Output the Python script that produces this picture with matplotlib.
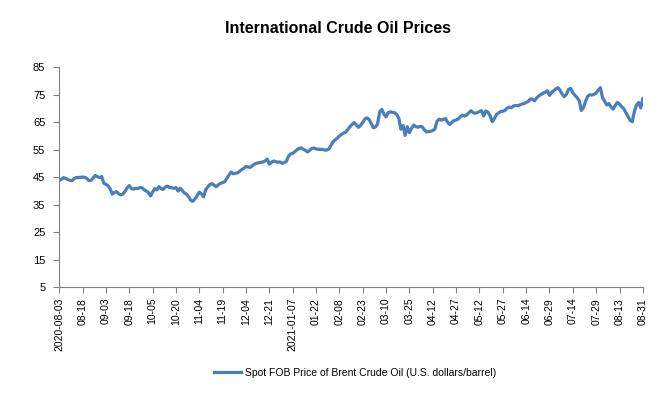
import matplotlib
matplotlib.use("Agg")
import matplotlib.pyplot as plt
from matplotlib import font_manager

# Brent spot FOB price, one value per trading day (2020-08-03 .. 2021-08-31)
prices = [
    43.8, 44.3, 44.9, 44.6, 44.2, 43.9, 43.8, 44.5, 44.9, 44.9, 45.0,
    45.1, 45.0, 44.6, 43.8, 43.9, 44.8, 45.7, 45.2, 44.9, 45.3, 42.9,
    42.4, 42.0, 40.8, 38.9, 39.5, 39.8, 39.0, 38.6, 38.9, 39.9, 41.2,
    42.0, 40.9, 40.7, 41.0, 40.9, 41.3, 41.2, 40.5, 40.0, 39.5, 38.2,
    39.6, 40.9, 40.4, 41.6, 40.9, 40.6, 41.5, 41.8, 41.3, 41.2, 41.0,
    41.3, 40.0, 41.0, 40.2, 39.3, 38.9, 37.9, 36.6, 36.3, 37.2, 38.3,
    39.6, 39.0, 37.9, 40.4, 41.5, 42.4, 42.7, 42.1, 41.6, 42.3, 42.8,
    43.1, 43.4, 44.6, 45.9, 46.9, 46.3, 46.5, 46.6, 47.2, 47.8, 48.3,
    48.9, 48.8, 48.6, 49.2, 49.8, 50.1, 50.3, 50.4, 50.6, 50.9, 51.6,
    49.8, 50.4, 50.9, 50.7, 50.5, 50.6, 50.1, 50.3, 50.8, 52.6, 53.5,
    53.7, 54.3, 55.0, 55.5, 55.7, 55.2, 54.8, 54.2, 54.8, 55.5, 55.6,
    55.3, 55.2, 55.1, 55.2, 54.9, 54.9, 55.3, 56.5, 57.9, 58.6, 59.2,
    60.0, 60.6, 61.1, 61.4, 62.4, 63.4, 64.2, 64.9, 64.0, 63.2, 63.9,
    64.9, 66.2, 66.6, 66.0, 64.6, 63.0, 63.3, 64.4, 68.8, 69.7, 67.9,
    67.0, 68.5, 68.8, 68.6, 68.5, 67.8, 66.5, 62.5, 63.8, 60.2, 63.4,
    61.2, 62.8, 64.0, 63.4, 63.2, 63.5, 63.4, 62.3, 61.5, 61.6, 61.7,
    62.0, 62.5, 65.4, 66.1, 65.8, 66.0, 66.4, 65.0, 64.2, 65.0, 65.6,
    65.8, 66.2, 67.0, 67.6, 67.3, 67.7, 68.4, 69.2, 68.5, 68.3, 68.5,
    68.9, 69.2, 67.3, 69.1, 68.7, 67.4, 65.2, 66.3, 67.8, 68.4, 68.9,
    69.0, 69.3, 70.1, 70.5, 70.3, 70.9, 71.1, 71.0, 71.3, 71.6, 71.8,
    72.2, 72.6, 73.5, 73.3, 72.8, 73.9, 74.6, 75.1, 75.6, 75.9, 76.5,
    74.8, 75.8, 76.5, 77.1, 77.6, 76.6, 75.2, 74.3, 75.2, 77.0, 77.3,
    75.7, 74.8, 74.0, 72.9, 69.3, 70.3, 72.6, 74.5, 75.0, 74.9, 75.2,
    75.6, 76.7, 77.6, 73.9, 72.6, 71.3, 71.8, 70.6, 69.8, 71.2, 72.2,
    71.6, 70.7, 69.9, 68.5, 67.1, 65.7, 65.2, 68.9, 71.3, 72.2, 70.2, 73.6,
]

tick_labels = [
    "2020-08-03", "08-18", "09-03", "09-18", "10-05", "10-20", "11-04",
    "11-19", "12-04", "12-21", "2021-01-07", "01-22", "02-08", "02-23",
    "03-10", "03-25", "04-12", "04-27", "05-12", "05-27", "06-14", "06-29",
    "07-14", "07-29", "08-13", "08-31",
]
tick_step = 11
y_ticks = [5, 15, 25, 35, 45, 55, 65, 75, 85]
series_name = "Spot FOB Price of Brent Crude Oil (U.S. dollars/barrel)"

installed = {f.name for f in font_manager.fontManager.ttflist}
narrow = "Liberation Sans Narrow" if "Liberation Sans Narrow" in installed else "Liberation Sans"
plt.rcParams["font.family"] = ["Liberation Sans", "DejaVu Sans"]

fig = plt.figure(figsize=(6.58, 3.98), dpi=100)
ax = fig.add_axes([0.090, 0.278, 0.887, 0.553])

x = list(range(len(prices)))
line, = ax.plot(x, prices, color="#4a7ebb", lw=2.3, solid_joinstyle="round")

ax.set_xlim(0, len(prices) - 1)
ax.set_ylim(5, 85)
ax.set_yticks(y_ticks)
ax.set_yticklabels([str(v) for v in y_ticks], fontsize=8, family=narrow)
ax.set_xticks(list(range(0, len(prices), tick_step)))
ax.set_xticklabels(tick_labels, rotation=90, fontsize=7.5, family=narrow)

for s in ("top", "right"):
    ax.spines[s].set_visible(False)
for s in ("left", "bottom"):
    ax.spines[s].set_color("#808080")
    ax.spines[s].set_linewidth(0.8)
ax.tick_params(axis="both", colors="#808080", length=4, width=0.8, labelcolor="black")
ax.tick_params(axis="y", pad=6)

fig.text(0.514, 0.928, "International Crude Oil Prices", ha="center", va="center",
         fontsize=11.5, fontweight="bold")

fig.legend([line], [series_name], loc="center", bbox_to_anchor=(0.54, 0.063),
           frameon=False, fontsize=7.5, handlelength=2.6, handletextpad=0.4,
           prop={"family": narrow, "size": 7.5})

fig.savefig("out.png", dpi=100)
